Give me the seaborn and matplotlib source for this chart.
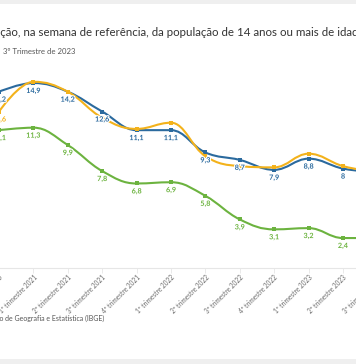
import numpy as np
import pandas as pd
import matplotlib
matplotlib.use("Agg")
import matplotlib.pyplot as plt
import seaborn as sns
from matplotlib.path import Path
from matplotlib.patches import PathPatch, Rectangle
import matplotlib.patheffects as pe
import matplotlib.transforms as mtransforms

# ---------------- data ----------------
quarters = ["4º trimestre 2020", "1º trimestre 2021", "2º trimestre 2021", "3º trimestre 2021",
            "4º trimestre 2021", "1º trimestre 2022", "2º trimestre 2022", "3º trimestre 2022",
            "4º trimestre 2022", "1º trimestre 2023", "2º trimestre 2023", "3º trimestre 2023"]
blue_vals = [14.2, 14.9, 14.2, 12.6, 11.1, 11.1, 9.3, 8.7, 7.9, 8.8, 8.0, 7.7]
yellow_vals = [12.6, 15.0, 14.2, 12.1, 11.2, 11.7, 9.0, 8.2, 8.1, 9.2, 8.2, 7.7]
green_vals = [11.1, 11.3, 9.9, 7.8, 6.8, 6.9, 5.8, 3.9, 3.1, 3.2, 2.4, 2.4]

title = "Taxa de desocupação, na semana de referência, da população de 14 anos ou mais de idade"
title_hidden_prefix = "Taxa de desocupa"
subtitle = "3º Trimestre de 2023"
source = "Fonte: Instituto Brasileiro de Geografia e Estatística (IBGE)"

BLUE = "#2b6a9e"
YELLOW = "#f3b21b"
GREEN = "#6cb33f"

sns.set_theme(style="white")
plt.rcParams["font.family"] = ["Lato", "DejaVu Sans"]

W, H = 356, 364
fig = plt.figure(figsize=(W / 100, H / 100), dpi=100)
fig.patch.set_facecolor("white")

# background strips of the card
fig.patches.append(Rectangle((0, 1 - 4 / H), 1, 4 / H, transform=fig.transFigure,
                             facecolor="#efefef", edgecolor="none", zorder=0))
fig.patches.append(Rectangle((0, 0), 1, 5 / H, transform=fig.transFigure,
                             facecolor="#efefef", edgecolor="none", zorder=0))

# axes geometry (pixels): index 0 at x=-1, spacing 34.4 px ; y=0 at 267.8 px from top, 12.4 px/unit
n = len(quarters)
step = 34.4
x0_px = -1.0
ymax = 16.0
y0_px = 267.8
pxu = 12.4
ax_left = x0_px / W
ax_width = step * (n - 1) / W
ax_bottom = (H - y0_px) / H
ax_height = ymax * pxu / H
ax = fig.add_axes([ax_left, ax_bottom, ax_width, ax_height])
ax.set_xlim(0, n - 1)
ax.set_ylim(0, ymax)
ax.set_facecolor("none")

xs = np.arange(n)
df = pd.DataFrame({"x": np.tile(xs, 3),
                   "valor": blue_vals + yellow_vals + green_vals,
                   "serie": ["azul"] * n + ["amarelo"] * n + ["verde"] * n})


def spline_path(xv, yv):
    m = len(xv)
    left = [None] * m
    right = [None] * m
    sm, d = 1.5, 2.5
    for i in range(1, m - 1):
        lx, ly = xv[i - 1], yv[i - 1]
        nx, ny = xv[i + 1], yv[i + 1]
        px, py = xv[i], yv[i]
        lcx = (sm * px + lx) / d
        lcy = (sm * py + ly) / d
        rcx = (sm * px + nx) / d
        rcy = (sm * py + ny) / d
        if rcx != lcx:
            corr = ((rcy - lcy) * (rcx - px)) / (rcx - lcx) + py - rcy
            lcy += corr
            rcy += corr
        if lcy > max(ly, py):
            lcy = max(ly, py)
            rcy = 2 * py - lcy
        elif lcy < min(ly, py):
            lcy = min(ly, py)
            rcy = 2 * py - lcy
        if rcy > max(py, ny):
            rcy = max(py, ny)
            lcy = 2 * py - rcy
        elif rcy < min(py, ny):
            rcy = min(py, ny)
            lcy = 2 * py - rcy
        left[i] = (lcx, lcy)
        right[i] = (rcx, rcy)
    verts = [(xv[0], yv[0])]
    codes = [Path.MOVETO]
    for i in range(1, m):
        c1 = right[i - 1] if right[i - 1] is not None else (xv[i - 1], yv[i - 1])
        c2 = left[i] if left[i] is not None else (xv[i], yv[i])
        verts += [c1, c2, (xv[i], yv[i])]
        codes += [Path.CURVE4] * 3
    return Path(verts, codes)


series = [("azul", blue_vals, BLUE), ("amarelo", yellow_vals, YELLOW), ("verde", green_vals, GREEN)]
for k, (name, vals, col) in enumerate(series):
    patch = PathPatch(spline_path(xs.astype(float), np.array(vals, float)), facecolor="none",
                      edgecolor=col, lw=1.5, zorder=2 + k * 2, capstyle="round", joinstyle="round")
    ax.add_patch(patch)
    sns.scatterplot(data=df[df["serie"] == name], x="x", y="valor", color=col, marker="s",
                    s=11, linewidth=0, ax=ax, zorder=3 + k * 2, legend=False)


def fmt(v):
    s = ("%.1f" % v).replace(".", ",")
    if s.endswith(",0"):
        s = s[:-2]
    return s


lab_off = mtransforms.offset_copy(ax.transData, fig=fig, x=0, y=-7.5, units="dots")
stroke = [pe.withStroke(linewidth=1.6, foreground="white")]
for i, v in enumerate(blue_vals):
    ax.text(i, v, fmt(v), transform=lab_off, ha="center", va="center", fontsize=5.2,
            fontweight="bold", color=BLUE, zorder=20, path_effects=stroke)
for i, v in enumerate(green_vals):
    ax.text(i, v, fmt(v), transform=lab_off, ha="center", va="center", fontsize=5.2,
            fontweight="bold", color=GREEN, zorder=20, path_effects=stroke)
ax.text(0, yellow_vals[0], fmt(yellow_vals[0]), transform=lab_off, ha="center", va="center",
        fontsize=5.2, fontweight="bold", color=YELLOW, zorder=20, path_effects=stroke)

# axes styling
for s in ["top", "right", "left"]:
    ax.spines[s].set_visible(False)
ax.spines["bottom"].set_color("#e6e6e6")
ax.spines["bottom"].set_linewidth(0.8)
ax.set_yticks([])
ax.set_xticks(xs)
ax.set_xticklabels(quarters, rotation=45, ha="right", va="center", rotation_mode="anchor",
                   fontsize=4.7, color="#6a6a6a")
ax.tick_params(axis="x", length=3.6, width=0.6, color="#e6e6e6", pad=2.5, bottom=True)
shift = mtransforms.ScaledTranslation(2.5 / 100, 0, fig.dpi_scale_trans)
for lbl in ax.get_xticklabels():
    lbl.set_transform(lbl.get_transform() + shift)
ax.set_xlabel("")
ax.set_ylabel("")
ax.grid(False)

# title, positioned so that the visible part starts at the figure's left edge
renderer = fig.canvas.get_renderer()
title_fs = 8.3
tmp = fig.text(0, 0, title_hidden_prefix, fontsize=title_fs)
wpx = tmp.get_window_extent(renderer).width
tmp.remove()
fig.text(-wpx / W, 1 - 33 / H, title, fontsize=title_fs, color="#333333", ha="left", va="center")
fig.text(3 / W, 1 - 52 / H, subtitle, fontsize=5.6, color="#555555", ha="left", va="center")
fig.text(104 / W, 1 - 318 / H, source, fontsize=5.0, color="#555555", ha="right", va="center")

fig.savefig("out.png", dpi=100)
